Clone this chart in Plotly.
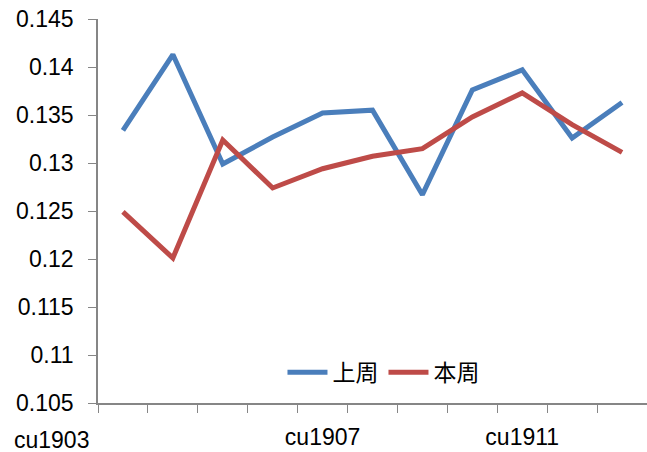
import plotly.graph_objects as go

categories = ["cu1903", "cu1904", "cu1905", "cu1906", "cu1907", "cu1908",
              "cu1909", "cu1910", "cu1911", "cu1912", "cu1913"]
last_week = [0.1334, 0.1413, 0.1299, 0.1327, 0.1352, 0.1355,
             0.1267, 0.1376, 0.1397, 0.1326, 0.1363]
this_week = [0.1249, 0.1201, 0.1324, 0.1274, 0.1294, 0.1307,
             0.1315, 0.1348, 0.1373, 0.1340, 0.1311]
shown_labels = {"cu1907", "cu1911"}
y_ticks = [0.105, 0.11, 0.115, 0.12, 0.125, 0.13, 0.135, 0.14, 0.145]
y_ticktext = ["0.105", "0.11", "0.115", "0.12", "0.125", "0.13", "0.135", "0.14", "0.145"]

fig = go.Figure()
fig.add_trace(go.Scatter(x=categories, y=last_week, mode="lines", name="上周",
                         line=dict(color="#4A7EBB", width=5)))
fig.add_trace(go.Scatter(x=categories, y=this_week, mode="lines", name="本周",
                         line=dict(color="#BE4B48", width=5)))

font = "Liberation Sans, Arial, sans-serif"
fig.update_layout(
    width=647, height=452,
    margin=dict(l=98, r=0, t=19, b=49),
    paper_bgcolor="white", plot_bgcolor="white",
    showlegend=True,
    legend=dict(orientation="h", x=0.52, y=0.08, xanchor="center", yanchor="middle",
                font=dict(family="Noto Sans CJK SC", size=23, color="#000"),
                bgcolor="rgba(0,0,0,0)", itemwidth=40, tracegroupgap=0),
    xaxis=dict(type="category", tickmode="array", tickvals=categories,
               ticktext=[c if c in shown_labels else "" for c in categories],
               tickson="boundaries", ticks="outside", ticklen=8, tickcolor="#868686",
               showline=True, linecolor="#868686", linewidth=1.5, showgrid=False,
               tickangle=0, automargin=False, ticklabelstandoff=13,
               tickfont=dict(family=font, size=23, color="#000"),
               range=[-0.5, len(categories) - 0.5]),
    yaxis=dict(range=[0.105, 0.145], tickmode="array", tickvals=y_ticks, ticktext=y_ticktext,
               ticks="outside", ticklen=8, tickcolor="#868686", automargin=False,
               showline=True, linecolor="#868686", linewidth=1.5, showgrid=False,
               zeroline=False, tickfont=dict(family=font, size=23, color="#000"),
               ticklabelstandoff=10),
)
fig.add_annotation(x=categories[0], y=0, yref="paper", yanchor="top", yshift=-22,
                   xshift=-71, text=categories[0], showarrow=False,
                   font=dict(family=font, size=23, color="#000"))
fig.write_html("out.html", config={"displayModeBar": False},
               post_script="document.body.style.margin='0';")
